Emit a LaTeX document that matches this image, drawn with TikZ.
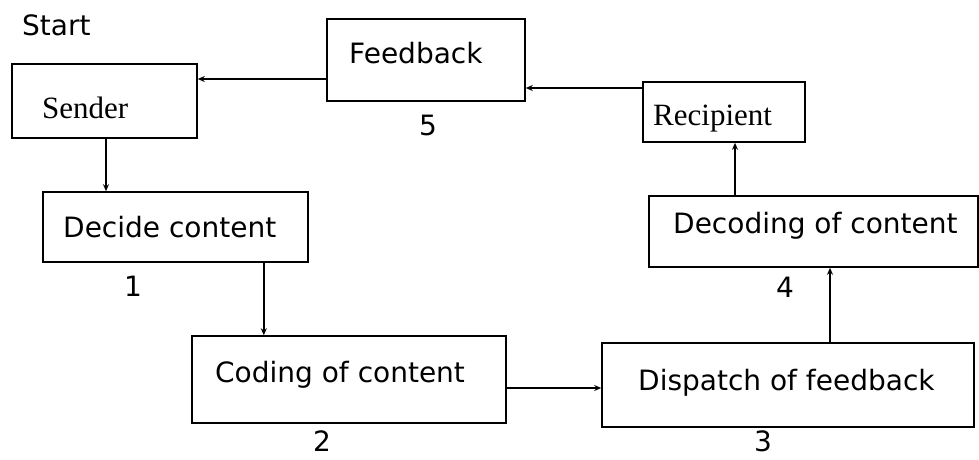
\documentclass[tikz,border=0pt]{standalone}
\usepackage{fontspec}
\setmainfont{DejaVu Sans}
\newfontfamily\serifbox{Liberation Serif}
\usetikzlibrary{arrows.meta}
\begin{document}
\begin{tikzpicture}[x=1pt,y=-1pt,
  box/.style={draw=black,line width=1.6pt,rectangle,inner sep=0pt},
  lab/.style={inner sep=0pt,anchor=base west,font=\fontsize{28}{30}\selectfont},
  slab/.style={inner sep=0pt,anchor=base west,font=\serifbox\fontsize{31}{33}\selectfont},
  num/.style={inner sep=0pt,anchor=base,font=\fontsize{28}{30}\selectfont},
  arr/.style={line width=1.6pt,-{Stealth[length=7pt,width=6pt]}}]
\useasboundingbox[fill=white] (0,0) rectangle (979,459);
% boxes
\node[box,minimum width=185pt,minimum height=74pt] (sender) at (104.5,101) {};
\node[box,minimum width=198pt,minimum height=82pt] (fb) at (426,60) {};
\node[box,minimum width=162pt,minimum height=60pt] (rec) at (724,112) {};
\node[box,minimum width=265pt,minimum height=70pt] (dec) at (175.5,227) {};
\node[box,minimum width=329pt,minimum height=71pt] (decod) at (813.5,231.5) {};
\node[box,minimum width=314pt,minimum height=87pt] (cod) at (349,379.5) {};
\node[box,minimum width=372pt,minimum height=84pt] (disp) at (788,385) {};
% texts
\node[lab] (start) at (22,35) {Start};
\node[slab] (sendertxt) at (42,118) {Sender};
\node[lab] (fbtxt) at (349,63) {Feedback};
\node[slab] (rectxt) at (653,125) {Recipient};
\node[lab] (dectxt) at (63,237) {Decide content};
\node[lab] (decodtxt) at (673,233) {Decoding of content};
\node[lab] (codtxt) at (215,382) {Coding of content};
\node[lab] (disptxt) at (638,390) {Dispatch of feedback};
% numbers
\node[num] (n5) at (428,135) {5};
\node[num] (n1) at (133,296) {1};
\node[num] (n4) at (785,297) {4};
\node[num] (n2) at (322,451) {2};
\node[num] (n3) at (763,451) {3};
% connectors
\draw[arr] ([yshift=-19pt]fb.west) -- ([yshift=-19pt]fb.west -| sender.east);
\draw[arr] ([yshift=24pt]rec.west) -- ([yshift=24pt]rec.west -| fb.east);
\draw[arr] ([xshift=1.5pt]sender.south) -- ([xshift=1.5pt]sender.south |- dec.north);
\draw[arr] ([xshift=-45pt]dec.south east) -- ([xshift=-45pt]dec.south east |- cod.north);
\draw[arr] ([yshift=-8.5pt]cod.east) -- ([yshift=-8.5pt]cod.east -| disp.west);
\draw[arr] ([xshift=42pt]disp.north) -- ([xshift=42pt]disp.north |- decod.south);
\draw[arr] ([xshift=-78.5pt]decod.north) -- ([xshift=-78.5pt]decod.north |- rec.south);
\end{tikzpicture}
\end{document}
